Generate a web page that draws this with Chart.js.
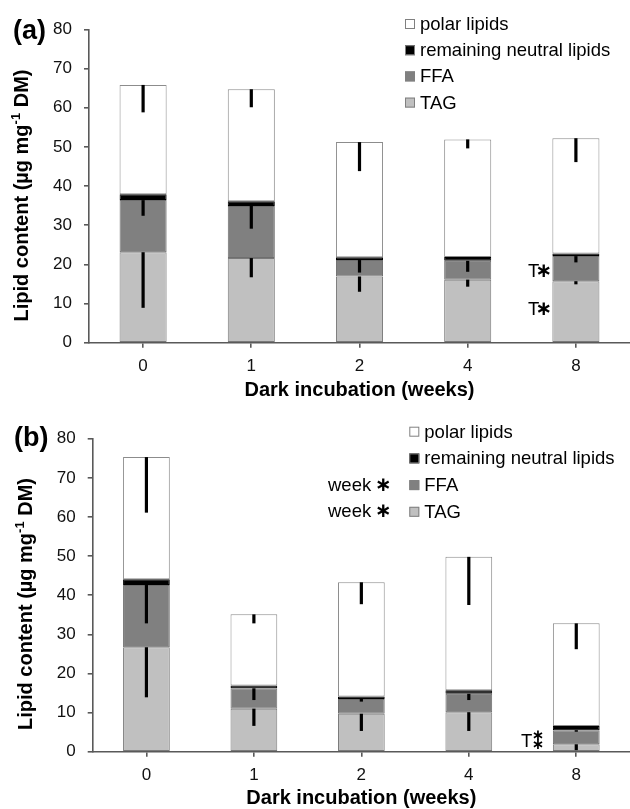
<!DOCTYPE html>
<html>
<head>
<meta charset="utf-8">
<script src="https://cdn.jsdelivr.net/npm/chart.js@4.4.1/dist/chart.umd.min.js"></script>
<style>
    body { margin: 0; background: #fff; }
    canvas { position: absolute; left: 0; }
    #panelA { top: 0; }
    #panelB { top: 405px; }
</style>
</head>
<body>
<canvas id="panelA" width="630" height="405"></canvas>
<canvas id="panelB" width="630" height="404"></canvas>
<script>
// categories
var weeks = ['0', '1', '2', '4', '8'];
var seriesNames = ['TAG', 'FFA', 'remaining neutral lipids', 'polar lipids'];
var yTicks = [0, 10, 20, 30, 40, 50, 60, 70, 80];

// panel (a) values, µg mg-1 DM
var tagA = [23.1, 21.6, 16.9, 16.1, 15.7];
var ffaA = [13.3, 13.3, 4.2, 4.8, 6.4];
var remA = [1.5, 1.2, 0.7, 1.0, 0.7];
var polarA = [27.9, 28.6, 29.4, 30.0, 29.4];
var errTagA = [14.2, 4.9, 3.9, 1.8, 0.8];
var errFfaA = [4.0, 5.8, 3.2, 2.8, 1.6];
var errPolarA = [7.0, 4.6, 7.4, 2.3, 6.1];

// panel (b) values
var tagB = [26.7, 11.0, 9.7, 10.1, 1.9];
var ffaB = [15.9, 5.2, 3.8, 4.7, 3.6];
var remB = [1.5, 0.7, 0.6, 0.9, 1.1];
var polarB = [31.2, 18.2, 29.2, 34.1, 26.2];
var errTagB = [12.8, 4.4, 4.4, 4.8, 1.5];
var errFfaB = [9.8, 3.0, 0.7, 1.6, 0.4];
var errPolarB = [14.2, 2.3, 5.6, 12.3, 6.6];

var FONT = "'Liberation Sans', Arial, sans-serif";
var fills = ['#c0c0c0', '#808080', '#000000', '#ffffff'];
var edges = ['#7a7a7a', '#6e6e6e', '#000000', '#8c8c8c'];

// error bars, drawn downward from the top of each segment
var errorBars = {
    id: 'errorBars',
    afterDatasetsDraw: function(chart) {
        var ctx = chart.ctx;
        var yScale = chart.scales.y;
        var sets = chart.data.datasets;
        ctx.save();
        ctx.strokeStyle = '#000';
        ctx.lineWidth = 3.2;
        ctx.lineCap = 'butt';
        for (var i = 0; i < sets.length; i++) {
            if (!sets[i].errors) continue;
            var meta = chart.getDatasetMeta(i);
            meta.data.forEach(function(bar, j) {
                var top = 0;
                for (var k = 0; k <= i; k++) top += sets[k].data[j];
                var y2 = yScale.getPixelForValue(top - sets[i].errors[j]);
                ctx.beginPath();
                ctx.moveTo(bar.x, bar.y);
                ctx.lineTo(bar.x, y2);
                ctx.stroke();
            });
        }
        ctx.restore();
    }
};

// legend, panel letter, y title and significance marks
var decorations = {
    id: 'decorations',
    afterDraw: function(chart) {
        var ctx = chart.ctx;
        var o = chart.options.plugins.decorations;
        var sets = chart.data.datasets;
        ctx.save();
        ctx.fillStyle = '#000';
        ctx.textBaseline = 'middle';

        // legend (top entry is the top of the stack)
        ctx.font = '18.5px ' + FONT;
        for (var r = 0; r < sets.length; r++) {
            var ds = sets[sets.length - 1 - r];
            var ly = o.legendY + r * o.legendStep;
            ctx.fillStyle = ds.backgroundColor;
            ctx.fillRect(o.legendX, ly - 5, 10, 10);
            ctx.strokeStyle = '#808080';
            ctx.lineWidth = 1;
            ctx.strokeRect(o.legendX + 0.5, ly - 4.5, 9, 9);
            ctx.fillStyle = '#000';
            ctx.textAlign = 'left';
            ctx.fillText(ds.label, o.legendX + 15, ly + 1);
        }

        // panel letter
        ctx.font = 'bold 27px ' + FONT;
        ctx.textAlign = 'left';
        ctx.fillText(o.letter, o.letterX, o.letterY);

        // y title with superscript
        ctx.save();
        ctx.translate(o.yTitleX, o.yTitleY);
        ctx.rotate(-Math.PI / 2);
        var big = 'bold 20px ' + FONT, small = 'bold 13px ' + FONT;
        var p1 = 'Lipid content (\u00b5g mg', p2 = '-1', p3 = ' DM)';
        ctx.font = big;
        var w1 = ctx.measureText(p1).width, w3 = ctx.measureText(p3).width;
        ctx.font = small;
        var w2 = ctx.measureText(p2).width;
        var x0 = -(w1 + w2 + w3) / 2;
        ctx.textAlign = 'left';
        ctx.font = big;
        ctx.fillText(p1, x0, 0);
        ctx.font = small;
        ctx.fillText(p2, x0 + w1, -6);
        ctx.font = big;
        ctx.fillText(p3, x0 + w1 + w2, 0);
        ctx.restore();

        // significance marks
        o.marks.forEach(function(m) {
            ctx.font = '18.5px ' + FONT;
            ctx.textAlign = 'left';
            ctx.fillText(m.text, m.x, m.y);
            ctx.font = 'bold ' + m.size + 'px "DejaVu Sans"';
            ctx.textAlign = 'center';
            m.stars.forEach(function(s) {
                ctx.fillText('\u2217', s[0], s[1]);
            });
        });
        ctx.restore();
    }
};

function makePanel(id, tag, ffa, rem, polar, errTag, errFfa, errPolar, o) {
    var ctx = document.getElementById(id).getContext('2d');
    var values = [tag, ffa, rem, polar];
    var errs = [errTag, errFfa, null, errPolar];
    var datasets = values.map(function(v, i) {
        return {
            label: seriesNames[i],
            data: v,
            errors: errs[i],
            backgroundColor: fills[i],
            borderColor: edges[i],
            borderWidth: 1,
            borderSkipped: false,
            categoryPercentage: 1,
            barPercentage: 0.435
        };
    });
    return new Chart(ctx, {
        type: 'bar',
        data: { labels: weeks, datasets: datasets },
        plugins: [errorBars, decorations],
        options: {
            responsive: false,
            animation: false,
            events: [],
            layout: { padding: { top: o.top, left: 0, right: 0, bottom: 0 } },
            plugins: {
                legend: { display: false },
                tooltip: { enabled: false },
                decorations: o
            },
            scales: {
                x: {
                    stacked: true,
                    afterFit: function(s) { s.height = o.xHeight; },
                    border: { display: true, color: '#595959', width: 1.6 },
                    grid: { display: true, drawOnChartArea: false, drawTicks: true, tickLength: 5, offset: false, color: '#595959', lineWidth: 1.6 },
                    ticks: { color: '#111', padding: 8, font: { family: FONT, size: 17 } },
                    title: {
                        display: true,
                        text: 'Dark incubation (weeks)',
                        color: '#000',
                        font: { family: FONT, size: 20, weight: 'bold', lineHeight: 1.1 },
                        padding: { top: 0, bottom: o.xTitlePad }
                    }
                },
                y: {
                    stacked: true,
                    min: 0,
                    max: 80,
                    afterFit: function(s) { s.width = o.left; },
                    afterBuildTicks: function(s) { s.ticks = yTicks.map(function(v) { return { value: v }; }); },
                    border: { display: true, color: '#595959', width: 1.6 },
                    grid: { display: true, drawOnChartArea: false, drawTicks: true, tickLength: 5, color: '#595959', lineWidth: 1.6 },
                    ticks: { color: '#111', padding: 12, font: { family: FONT, size: 17 } }
                }
            }
        }
    });
}

makePanel('panelA', tagA, ffaA, remA, polarA, errTagA, errFfaA, errPolarA, {
    top: 29.3, left: 89, xHeight: 62.3, xTitlePad: 4,
    legendX: 405, legendY: 24, legendStep: 26.2,
    letter: '(a)', letterX: 13, letterY: 32,
    yTitleX: 22, yTitleY: 195.5,
    marks: [
        { text: 'T', x: 528, y: 272, size: 20, stars: [[544, 272]] },
        { text: 'T', x: 528, y: 310, size: 20, stars: [[544, 310]] }
    ]
});

makePanel('panelB', tagB, ffaB, remB, polarB, errTagB, errFfaB, errPolarB, {
    top: 33.7, left: 92.7, xHeight: 57.3, xTitlePad: 0,
    legendX: 409.3, legendY: 26.7, legendStep: 26.7,
    letter: '(b)', letterX: 14, letterY: 34,
    yTitleX: 26, yTitleY: 199,
    marks: [
        { text: 'week', x: 328, y: 81, size: 20, stars: [[383.5, 81]] },
        { text: 'week', x: 328, y: 106.7, size: 20, stars: [[383.5, 106.7]] },
        { text: 'T', x: 521, y: 337, size: 15, stars: [[538, 331.5], [538, 340.5]] }
    ]
});
</script>
</body>
</html>
